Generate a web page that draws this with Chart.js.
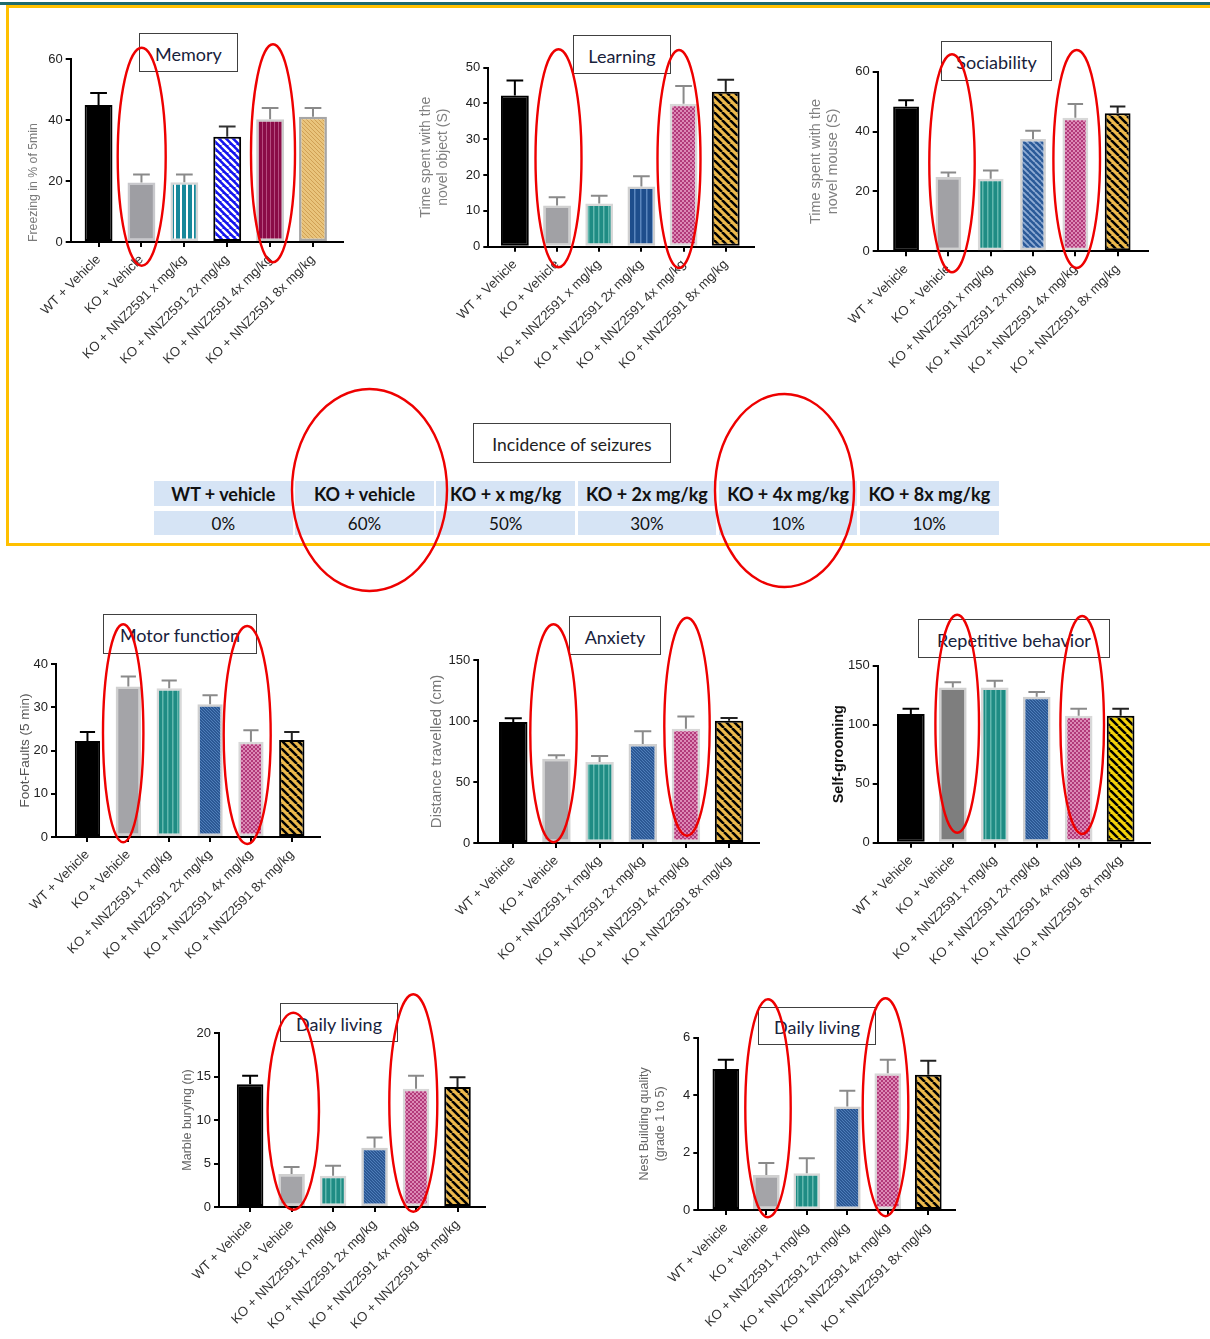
<!DOCTYPE html>
<html><head><meta charset="utf-8"><title>NNZ2591 behavioural panels</title>
<script src="https://cdn.jsdelivr.net/npm/chart.js@4.4.1/dist/chart.umd.min.js"></script>
<style>
html,body{margin:0;padding:0;background:#fff}
body{position:relative;width:1210px;height:1339px;overflow:hidden}
canvas{position:absolute;z-index:1}
.tbox{position:absolute;z-index:2;box-sizing:border-box;border:1.6px solid #404040;background:#fff;font-family:Lato,'Open Sans',sans-serif;font-size:18px;color:#18223c;display:flex;align-items:center;justify-content:center;padding-top:2px;white-space:nowrap}
#topline{position:absolute;left:0;top:2px;width:1210px;height:2.5px;background:#1f6a6d}
#yellow{position:absolute;left:6px;top:5px;width:1230px;height:541px;box-sizing:border-box;border:3px solid #ffc000;border-right:none}
#seiz{position:absolute;left:154px;top:481px;display:grid;grid-template-columns:repeat(6,138.7px);column-gap:2.5px;row-gap:5px;z-index:1}
#seiz div{background:#d6e4f5;font-family:Lato,'Open Sans',sans-serif;color:#111;text-align:center;display:flex;align-items:center;justify-content:center;white-space:nowrap}
#seiz .h{height:25px;font-weight:bold;font-size:18px}
#seiz .v{height:24px;font-size:17px}
svg{position:absolute;left:0;top:0;z-index:3;pointer-events:none}
</style></head><body>
<div id="topline"></div>
<div id="yellow"></div>
<div id="seiz"></div>
<script>
// ---------------- data ----------------
const categories = ['WT + Vehicle','KO + Vehicle','KO + NNZ2591 x mg/kg','KO + NNZ2591 2x mg/kg','KO + NNZ2591 4x mg/kg','KO + NNZ2591 8x mg/kg'];

const memoryMeans      = [45.0, 19.5, 19.6, 34.6, 40.3, 41.1];
const memoryErrors     = [3.9, 2.7, 2.6, 3.3, 3.7, 2.9];
const memoryTicks      = [0, 20, 40, 60];

const learningMeans    = [42.2, 11.5, 12.1, 16.8, 39.9, 43.3];
const learningErrors   = [4.2, 2.3, 2.1, 2.9, 5.0, 3.3];
const learningTicks    = [0, 10, 20, 30, 40, 50];

const sociabilityMeans = [48.4, 24.8, 24.2, 37.5, 44.6, 46.1];
const sociabilityErrors= [2.1, 1.5, 2.8, 2.8, 4.6, 2.3];
const sociabilityTicks = [0, 20, 40, 60];

const motorMeans       = [22.2, 34.8, 34.4, 30.7, 22.0, 22.4];
const motorErrors      = [2.1, 2.3, 1.8, 2.1, 2.7, 1.9];
const motorTicks       = [0, 10, 20, 30, 40];

const anxietyMeans     = [99.2, 69.1, 66.4, 81.1, 93.7, 100.3];
const anxietyErrors    = [3.0, 2.8, 4.9, 10.4, 9.9, 2.2];
const anxietyTicks     = [0, 50, 100, 150];

const repetitiveMeans  = [109.0, 131.6, 131.6, 123.7, 107.6, 107.6];
const repetitiveErrors = [4.6, 4.3, 5.7, 4.0, 6.0, 6.0];
const repetitiveTicks  = [0, 50, 100, 150];

const marbleMeans      = [14.1, 3.8, 3.6, 6.8, 13.6, 13.8];
const marbleErrors     = [1.0, 0.8, 1.15, 1.2, 1.5, 1.1];
const marbleTicks      = [0, 5, 10, 15, 20];

const nestMeans        = [4.91, 1.22, 1.28, 3.60, 4.76, 4.71];
const nestErrors       = [0.32, 0.42, 0.52, 0.55, 0.47, 0.49];
const nestTicks        = [0, 2, 4, 6];

const seizureGroups    = ['WT + vehicle','KO + vehicle','KO + x mg/kg','KO + 2x mg/kg','KO + 4x mg/kg','KO + 8x mg/kg'];
const seizureIncidence = [0, 60, 50, 30, 10, 10];

// ---------------- styles ----------------
const AX = "'Liberation Sans', Arial, sans-serif";
const S = c => ({t:'solid', c});
const PINK = {t:'dots', base:'#b23a7a', line:'#dc8ab6', p:4};
const TEAL = {t:'v', base:'#1f8c84', line:'#62b7ae', p:5, w:1.5};
const BLUEFINE = {t:'d', base:'#2c5894', line:'#4f7eba', p:3, w:1};
const YEL = {t:'d', base:'#ecb94c', line:'#000000', p:8, w:2.5};
const STD_BORDERS = ['#000','#d0d0d0','#d8d8d8','#d0d0d0','#d8d8d8','#000'];
const STD_BW = [2,2.5,2.5,2.5,2.5,2];
const STD_ERR = ['#000','#8a8a8a','#8a8a8a','#8a8a8a','#8a8a8a','#222'];

const panels = [
 {means:memoryMeans, errs:memoryErrors, ticks:memoryTicks, yTitle:'Freezing in % of 5min', tSize:12.3, tLH:1.2, tColor:'#7a7a7a', tAlign:'start', tWeight:'normal', tX:33,
  ax:70.7, at:59.3, ab:242, ar:343, offL:0.65, offR:0.7, barW:0.65,
  fills:[S('#000'), S('#9e9ea3'), {t:'v',base:'#ffffff',line:'#17889a',p:6,w:4}, {t:'d',base:'#1515ee',line:'#ffffff',p:7,w:2.4}, {t:'v',base:'#8a0b47',line:'#b54d80',p:4,w:1}, {t:'d',base:'#e9c47c',line:'#d0a055',p:4,w:1}],
  borders:['#000','#c8c8cc','#d6d6d6','#000','#cccccc','#a6a6a6'], bw:[2,2.5,2.5,2,2.5,2.5], errColors:['#000','#8a8a8a','#8a8a8a','#333','#8a8a8a','#8a8a8a']},
 {means:learningMeans, errs:learningErrors, ticks:learningTicks, yTitle:['Time spent with the','novel object (S)'], tSize:14, tLH:1.19, tColor:'#808080', tAlign:'center', tWeight:'normal', tX:426.7,
  ax:488.3, at:67.7, ab:246.7, ar:754, offL:0.63, offR:0.67, barW:0.66,
  fills:[S('#000'), S('#a1a1a5'), TEAL, {t:'v',base:'#1e4e8c',line:'#5a86bd',p:6,w:1.5}, PINK, YEL],
  borders:STD_BORDERS, bw:STD_BW, errColors:STD_ERR},
 {means:sociabilityMeans, errs:sociabilityErrors, ticks:sociabilityTicks, yTitle:['Time spent with the','novel mouse (S)'], tSize:14.5, tLH:1.19, tColor:'#808080', tAlign:'center', tWeight:'normal', tX:816,
  ax:877.7, at:71.7, ab:251.3, ar:1147.7, offL:0.67, offR:0.71, barW:0.61,
  fills:[S('#000'), S('#a1a1a5'), TEAL, {t:'d',base:'#2b5a98',line:'#90acd4',p:6,w:1.8}, PINK, YEL],
  borders:STD_BORDERS, bw:STD_BW, errColors:STD_ERR},
 {means:motorMeans, errs:motorErrors, ticks:motorTicks, yTitle:'Foot-Faults (5 min)', tSize:13.5, tLH:1.2, tColor:'#555', tAlign:'center', tWeight:'normal', tX:25,
  ax:56, at:664, ab:837, ar:320, offL:0.77, offR:0.69, barW:0.62,
  fills:[S('#000'), S('#a4a4a8'), TEAL, BLUEFINE, PINK, YEL],
  borders:STD_BORDERS, bw:STD_BW, errColors:STD_ERR},
 {means:anxietyMeans, errs:anxietyErrors, ticks:anxietyTicks, yTitle:'Distance travelled (cm)', tSize:15, tLH:1.2, tColor:'#777', tAlign:'center', tWeight:'normal', tX:437.3,
  ax:478.3, at:660, ab:843, ar:759.3, offL:0.81, offR:0.70, barW:0.66,
  fills:[S('#000'), S('#a4a4a8'), TEAL, BLUEFINE, PINK, YEL],
  borders:STD_BORDERS, bw:STD_BW, errColors:STD_ERR},
 {means:repetitiveMeans, errs:repetitiveErrors, ticks:repetitiveTicks, yTitle:'Self-grooming', tSize:14.5, tLH:1.2, tColor:'#111', tAlign:'center', tWeight:'bold', tX:839,
  ax:877.7, at:665.7, ab:842.7, ar:1150, offL:0.79, offR:0.7, barW:0.66,
  fills:[S('#000'), S('#7e7e7e'), TEAL, BLUEFINE, PINK, {t:'d',base:'#f3d20a',line:'#000000',p:8,w:2.5}],
  borders:STD_BORDERS, bw:STD_BW, errColors:STD_ERR},
 {means:marbleMeans, errs:marbleErrors, ticks:marbleTicks, yTitle:'Marble burying (n)', tSize:12.5, tLH:1.2, tColor:'#666', tAlign:'center', tWeight:'normal', tX:187.3,
  ax:219, at:1033, ab:1207, ar:485.3, offL:0.75, offR:0.67, barW:0.64,
  fills:[S('#000'), S('#a4a4a8'), TEAL, BLUEFINE, PINK, YEL],
  borders:STD_BORDERS, bw:STD_BW, errColors:STD_ERR},
 {means:nestMeans, errs:nestErrors, ticks:nestTicks, yTitle:['Nest Building quality','(grade 1 to 5)'], tSize:12.5, tLH:1.26, tColor:'#666', tAlign:'center', tWeight:'normal', tX:645,
  ax:698.3, at:1037.7, ab:1210, ar:955, offL:0.68, offR:0.66, barW:0.66,
  fills:[S('#000'), S('#a4a4a8'), TEAL, BLUEFINE, PINK, YEL],
  borders:STD_BORDERS, bw:STD_BW, errColors:STD_ERR}
];

const titleBoxes = [
 ['Memory',139,33,99,39],['Learning',573,35,98,39],['Sociability',941,41,111,40],
 ['Incidence of seizures',473,423,198,40],
 ['Motor function',103,614,154,40],['Anxiety',569,616,92,39],['Repetitive behavior',918,619,192,39],
 ['Daily living',280,1003,118,39],['Daily living',758,1007,118,38]
];
const ellipses = [
 [141.7,156.7,24,109],[273,153.3,22,109],[558.5,158.3,23,109],[679,159,21.5,109],[952,163.3,22.7,109],[1076.7,159,23.3,109],
 [369.5,490,77.5,101],[784.5,490.5,69.5,96.5],
 [123.2,733.3,20.2,109],[247.2,735,23.5,109],[553.5,733.3,23.2,109],[687,726.7,22.7,109],[957.2,723.7,21.8,109],[1082.2,725,21.8,109],
 [293.3,1111.2,25.7,98.5],[413.3,1103,24,108.7],[768,1108.3,22.7,109],[885.5,1107.3,22.8,109]
];

// ---------------- helpers ----------------
function makeTile(s){
  const p = s.p || 4;
  const c = document.createElement('canvas'); c.width = p; c.height = p;
  const g = c.getContext('2d');
  g.fillStyle = s.base; g.fillRect(0,0,p,p);
  if (s.t === 'v') { g.fillStyle = s.line; g.fillRect(0,0,s.w,p); }
  else if (s.t === 'd' || s.t === 'u') {
    g.strokeStyle = s.line; g.lineWidth = s.w; g.beginPath();
    for (let k = -p; k <= p; k += p) {
      if (s.t === 'd') { g.moveTo(k,0); g.lineTo(k+p,p); } else { g.moveTo(k,p); g.lineTo(k+p,0); }
    }
    g.stroke();
  } else if (s.t === 'dots') {
    g.fillStyle = s.line; g.fillRect(0,0,2,2); g.fillRect(2,2,2,2);
  }
  return c;
}
function fillFor(c, fills){
  if (c.dataIndex === undefined) return '#000';
  const spec = fills[c.dataIndex];
  if (spec.t === 'solid') return spec.c;
  const chart = c.chart;
  chart.$pat = chart.$pat || {};
  const key = JSON.stringify(spec);
  if (!chart.$pat[key]) chart.$pat[key] = chart.ctx.createPattern(makeTile(spec), 'repeat');
  return chart.$pat[key];
}
const errPlugin = {
  id: 'errbars',
  afterDatasetsDraw(chart, args, opts){
    const ctx = chart.ctx, ys = chart.scales.y, meta = chart.getDatasetMeta(0), ds = chart.data.datasets[0];
    ctx.save(); ctx.lineWidth = 2;
    meta.data.forEach((bar, i) => {
      const v = ds.data[i].y, e = opts.errs[i];
      const yT = ys.getPixelForValue(v), yE = ys.getPixelForValue(v + e);
      const half = bar.width * 0.3;
      ctx.strokeStyle = opts.colors[i];
      ctx.beginPath();
      ctx.moveTo(bar.x, yT); ctx.lineTo(bar.x, yE);
      ctx.moveTo(bar.x - half, yE); ctx.lineTo(bar.x + half, yE);
      ctx.stroke();
    });
    ctx.restore();
  }
};

function makePanel(p){
  const lhPx = p.tSize * p.tLH;
  const cl = Math.round(p.tX - lhPx/2);
  const W = p.ax - cl;
  const ct = Math.round(p.at - 12);
  const P = p.at - ct;
  const ch = Math.round(p.ab - ct + 140);
  const H = ch - (p.ab - ct);
  const cw = Math.round(p.ar - cl + 4);
  const PRr = cw - (p.ar - cl);
  const cv = document.createElement('canvas');
  cv.width = cw; cv.height = ch;
  cv.style.left = cl + 'px'; cv.style.top = ct + 'px';
  cv.style.width = cw + 'px'; cv.style.height = ch + 'px';
  document.body.appendChild(cv);
  new Chart(cv, {
    type: 'bar',
    data: { datasets: [{
      data: p.means.map((v, i) => ({x: i, y: v})),
      backgroundColor: c => fillFor(c, p.fills),
      borderColor: p.borders, borderWidth: p.bw, borderSkipped: false,
      barPercentage: p.barW, categoryPercentage: 1
    }]},
    options: {
      responsive: false, animation: false, devicePixelRatio: 1,
      layout: { padding: { left: 0, top: P, right: PRr, bottom: 0 } },
      plugins: { legend: {display: false}, tooltip: {enabled: false}, errbars: {errs: p.errs, colors: p.errColors} },
      scales: {
        x: { type: 'linear', offset: false, min: -p.offL, max: 5 + p.offR,
          afterBuildTicks: s => { s.ticks = categories.map((_, i) => ({value: i})); },
          afterFit: s => { s.height = H; },
          ticks: { autoSkip: false, minRotation: 45, maxRotation: 45, padding: 5, color: '#333', font: {family: AX, size: 13.2}, callback: v => categories[v] },
          grid: { offset: false, drawOnChartArea: false, drawTicks: true, tickLength: 5, color: '#000', lineWidth: 2 },
          border: { display: true, color: '#000', width: 2 } },
        y: { type: 'linear', min: 0, max: p.ticks[p.ticks.length - 1],
          afterBuildTicks: s => { s.ticks = p.ticks.map(v => ({value: v})); },
          afterFit: s => { s.width = W; },
          ticks: { padding: 3, color: '#222', font: {family: AX, size: 13} },
          grid: { drawOnChartArea: false, drawTicks: true, tickLength: 5, color: '#000', lineWidth: 2 },
          border: { display: true, color: '#000', width: 2 },
          title: { display: true, text: p.yTitle, color: p.tColor, align: p.tAlign, padding: 0,
                   font: {family: AX, size: p.tSize, weight: p.tWeight, lineHeight: p.tLH} } }
      }
    },
    plugins: [errPlugin]
  });
}
panels.forEach(makePanel);

// table
const seiz = document.getElementById('seiz');
seizureGroups.forEach(g => { const d = document.createElement('div'); d.className = 'h'; d.textContent = g; seiz.appendChild(d); });
seizureIncidence.forEach(v => { const d = document.createElement('div'); d.className = 'v'; d.textContent = v + '%'; seiz.appendChild(d); });

// title boxes
titleBoxes.forEach(([t, l, tp, w, h]) => {
  const d = document.createElement('div'); d.className = 'tbox'; d.textContent = t;
  Object.assign(d.style, {left: l + 'px', top: tp + 'px', width: w + 'px', height: h + 'px'});
  if (t === 'Incidence of seizures') { d.style.color = '#222'; d.style.fontSize = '17.5px'; }
  document.body.appendChild(d);
});

// red ellipses overlay
const NS = 'http://www.w3.org/2000/svg';
const svg = document.createElementNS(NS, 'svg');
svg.setAttribute('width', 1210); svg.setAttribute('height', 1339);
ellipses.forEach(([cx, cy, rx, ry]) => {
  const e = document.createElementNS(NS, 'ellipse');
  e.setAttribute('cx', cx); e.setAttribute('cy', cy); e.setAttribute('rx', rx); e.setAttribute('ry', ry);
  e.setAttribute('fill', 'none'); e.setAttribute('stroke', '#ee0000'); e.setAttribute('stroke-width', 2.4);
  svg.appendChild(e);
});
document.body.appendChild(svg);
</script>
</body></html>
